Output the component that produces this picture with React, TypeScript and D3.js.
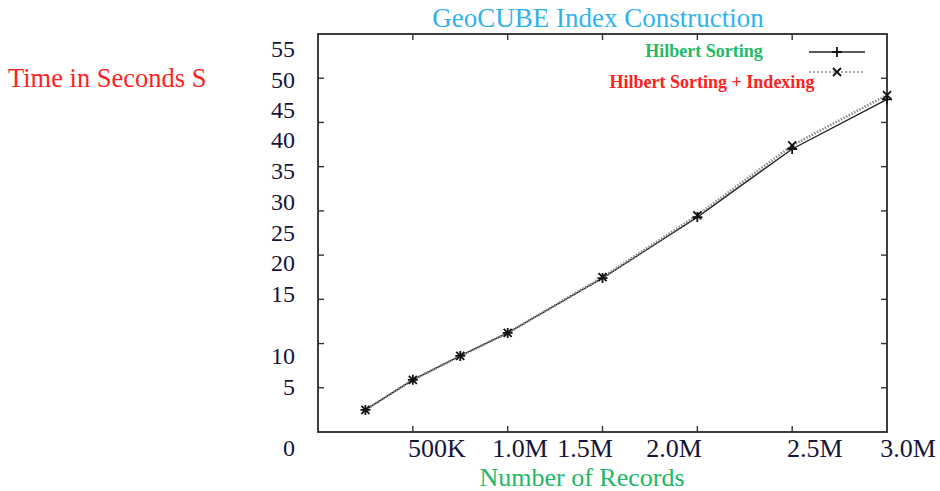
import { scaleLinear, line as d3_line } from "d3";

// Number of records (millions)
const records = [0.25, 0.5, 0.75, 1.0, 1.5, 2.0, 2.5, 3.0];
// Time (s) for each series
const sortingTimes = [2.5, 5.9, 8.6, 11.2, 17.4, 24.3, 32.0, 37.6];
const indexingTimes = [2.5, 5.9, 8.6, 11.2, 17.5, 24.5, 32.4, 38.1];

// Tick marks on the frame
const xTicks = [0.5, 1.0, 1.5, 2.0, 2.5];
const yTicks = [5, 10, 15, 20, 25, 30, 35, 40];

// Tick labels as printed in the figure (they do not sit exactly on the ticks)
const yTickLabels = ["55", "50", "45", "40", "35", "30", "25", "20", "15", "10", "5", "0"];
const yTickLabelAt = [43.4, 39.8, 36.5, 33.1, 29.6, 26.0, 22.6, 19.1, 15.7, 8.6, 5.1, -1.8];
const xTickLabels = ["500K", "1.0M", "1.5M", "2.0M", "2.5M", "3.0M"];
const xTickLabelAt = [0.627, 1.065, 1.408, 1.877, 2.62, 3.111];

const seriesNames = ["Hilbert Sorting", "Hilbert Sorting + Indexing"];

const W = 940;
const H = 491;
const margin = { top: 34, right: 53, bottom: 59, left: 318 };
const FONT = "'Liberation Serif', 'Times New Roman', serif";

export default function App() {
  const x = scaleLinear().domain([0, 3.0]).range([margin.left, W - margin.right]);
  const y = scaleLinear().domain([0, 45]).range([H - margin.bottom, margin.top]);

  const sortingData = records.map((r, i) => ({ r, t: sortingTimes[i] }));
  const indexingData = records.map((r, i) => ({ r, t: indexingTimes[i] }));

  const lineGen = d3_line<{ r: number; t: number }>()
    .x((d) => x(d.r))
    .y((d) => y(d.t));

  const x0 = x.range()[0];
  const x1 = x.range()[1];
  const y0 = y.range()[0];
  const y1 = y.range()[1];
  const tickLen = 6;

  const plus = "M-5,0H5M0,-5V5";
  const cross = "M-4,-4L4,4M-4,4L4,-4";

  // legend sample position
  const lgX0 = 809;
  const lgX1 = 865;

  return (
    <div style={{ position: "absolute", left: 0, top: 0 }}>
      <svg width={W} height={H} style={{ display: "block", background: "#fff" }}>
        {/* Title */}
        <text x={598} y={27} textAnchor="middle" fontFamily={FONT} fontSize={27} fill="#2fb3f0">
          GeoCUBE Index Construction
        </text>

        {/* Y axis title */}
        <text x={8} y={87} fontFamily={FONT} fontSize={26.5} fill="#ff1f1f">
          Time in Seconds S
        </text>

        {/* Frame */}
        <rect x={x0} y={y1} width={x1 - x0} height={y0 - y1} fill="none" stroke="#2a2a2a" strokeWidth={1.8} />

        {/* x ticks (top and bottom) */}
        {xTicks.map((t, i) => (
          <g key={i} stroke="#333" strokeWidth={1.4}>
            <line x1={x(t)} x2={x(t)} y1={y0} y2={y0 - tickLen} />
            <line x1={x(t)} x2={x(t)} y1={y1} y2={y1 + tickLen} />
          </g>
        ))}

        {/* y ticks (left and right) */}
        {yTicks.map((t, i) => (
          <g key={i} stroke="#333" strokeWidth={1.4}>
            <line x1={x0} x2={x0 + tickLen} y1={y(t)} y2={y(t)} />
            <line x1={x1} x2={x1 - tickLen} y1={y(t)} y2={y(t)} />
          </g>
        ))}

        {/* y tick labels */}
        {yTickLabels.map((lab, i) => (
          <text
            key={i}
            x={295}
            y={y(yTickLabelAt[i])}
            dy="0.35em"
            textAnchor="end"
            fontFamily={FONT}
            fontSize={24}
            fill="#15153a"
          >
            {lab}
          </text>
        ))}

        {/* x tick labels */}
        {xTickLabels.map((lab, i) => (
          <text
            key={i}
            x={x(xTickLabelAt[i])}
            y={457}
            textAnchor="middle"
            fontFamily={FONT}
            fontSize={26}
            fill="#15153a"
          >
            {lab}
          </text>
        ))}

        {/* x axis title */}
        <text x={582} y={486} textAnchor="middle" fontFamily={FONT} fontSize={26} fill="#20b866">
          Number of Records
        </text>

        {/* Series lines */}
        <path d={lineGen(sortingData) ?? ""} fill="none" stroke="#222" strokeWidth={1.4} />
        <path
          d={lineGen(indexingData) ?? ""}
          fill="none"
          stroke="#8a8a8a"
          strokeWidth={2.6}
          strokeDasharray="1.5,1.5"
        />

        {/* Markers */}
        {sortingData.map((d, i) => (
          <path key={"p" + i} d={plus} transform={`translate(${x(d.r)},${y(d.t)})`} stroke="#111" strokeWidth={1.8} fill="none" />
        ))}
        {indexingData.map((d, i) => (
          <path key={"c" + i} d={cross} transform={`translate(${x(d.r)},${y(d.t)})`} stroke="#111" strokeWidth={1.8} fill="none" />
        ))}

        {/* Legend */}
        <text x={704} y={57} textAnchor="middle" fontFamily={FONT} fontSize={18} fontWeight="bold" fill="#22bb66">
          {seriesNames[0]}
        </text>
        <line x1={lgX0} x2={lgX1} y1={52} y2={52} stroke="#222" strokeWidth={1.4} />
        <path d={plus} transform={`translate(${(lgX0 + lgX1) / 2},52)`} stroke="#111" strokeWidth={1.8} fill="none" />

        <text x={712} y={88} textAnchor="middle" fontFamily={FONT} fontSize={18} fontWeight="bold" fill="#ff2020">
          {seriesNames[1]}
        </text>
        <line x1={lgX0} x2={lgX1} y1={72} y2={72} stroke="#8a8a8a" strokeWidth={1.6} strokeDasharray="2,2" />
        <path d={cross} transform={`translate(${(lgX0 + lgX1) / 2},72)`} stroke="#111" strokeWidth={1.8} fill="none" />
      </svg>
    </div>
  );
}
